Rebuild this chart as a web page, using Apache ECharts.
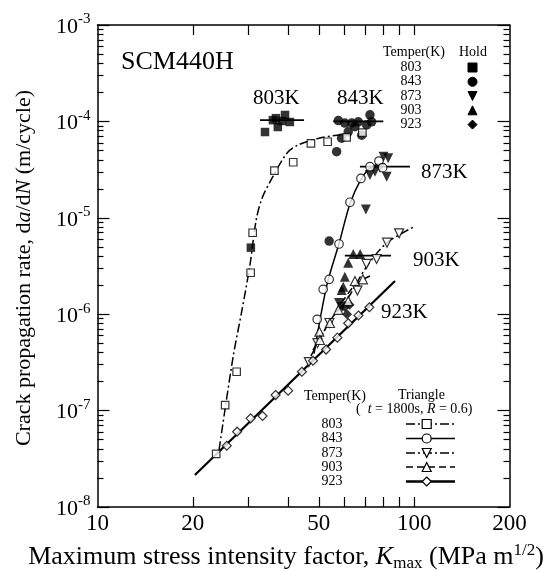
<!DOCTYPE html>
<html>
<head>
<meta charset="utf-8">
<script src="https://cdn.jsdelivr.net/npm/echarts@6/dist/echarts.min.js"></script>
<style>
html,body{margin:0;padding:0;background:#fff;}
#chart{width:553px;height:571px;}
</style>
</head>
<body>
<div id="chart"></div>
<script>
// ---------------- DATA ----------------
const xTickVals = [20, 30, 40, 50, 60, 70, 80, 90, 100];
const xLabelVals = [10, 20, 50, 100, 200];
const yMajorVals = [1e-8, 1e-7, 1e-6, 1e-5, 1e-4, 1e-3];
const yMinorMult = [2, 3, 4, 5, 6, 7, 8, 9];

// Hold (filled symbols)
const hold803 = [[33.8,7.76e-5],[35.8,1.03e-4],[37.1,8.75e-5],[39.1,1.165e-4],[40.5,9.86e-5],[38.2,1.01e-4],[36.6,1.08e-4],[30.5,4.9e-6]];
const hold843 = [[57.6,1.02e-4],[59.0,6.7e-5],[56.9,4.85e-5],[60.4,9.6e-5],[63.5,9.6e-5],[65.0,8.8e-5],[66.6,9.9e-5],[68.3,7.2e-5],[70.8,9.2e-5],[72.5,1.17e-4],[73.4,9.9e-5],[61.9,7.8e-5],[53.9,5.74e-6]];
const hold873 = [[80.0,4.3e-5],[82.8,4.14e-5],[72.5,2.78e-5],[75.2,3.0e-5],[81.9,2.67e-5],[78.0,3.29e-5],[70.4,1.22e-5],[57.9,1.31e-6],[59.2,1.19e-6]];
const hold903 = [[64.2,4.21e-6],[67.5,4.21e-6],[61.9,3.42e-6],[60.4,2.45e-6],[59.7,1.93e-6],[59.0,1.78e-6]];
const hold923 = [[60.4,1.19e-6],[62.5,1.25e-6],[61.4,1.0e-6]];

// Hold mean lines
const holdLine803 = [[32.6,1.03e-4],[44.9,1.03e-4]];
const holdLine843 = [[55.5,1.0e-4],[79.9,1.0e-4]];
const holdLine873 = [[67.4,3.39e-5],[97.0,3.39e-5]];
const holdLine903 = [[60.4,4.06e-6],[84.5,4.06e-6]];

// Triangle (open symbols)
const tri803 = [[23.7,3.55e-8],[25.3,1.14e-7],[27.5,2.53e-7],[30.45,2.69e-6],[30.9,7.0e-6],[36.2,3.08e-5],[41.5,3.77e-5],[47.2,5.93e-5],[53.3,6.15e-5],[61.2,6.84e-5],[68.6,7.63e-5]];
const tri843 = [[49.4,8.85e-7],[51.6,1.81e-6],[53.9,2.30e-6],[57.9,5.35e-6],[62.7,1.45e-5],[67.9,2.56e-5],[72.5,3.39e-5],[77.4,3.88e-5],[79.5,3.31e-5]];
const tri873 = [[46.5,3.19e-7],[49.5,5.0e-7],[54.0,8.1e-7],[66.2,1.76e-6],[70.7,3.32e-6],[76.1,3.74e-6],[82.1,5.52e-6],[89.6,6.9e-6]];
const tri903 = [[50.2,6.59e-7],[50.4,5.4e-7],[54.2,8.1e-7],[57.6,1.11e-6],[61.9,1.37e-6],[65.0,2.21e-6],[68.9,2.30e-6]];
const tri923 = [[25.6,4.32e-8],[27.6,6.04e-8],[30.45,8.32e-8],[33.2,8.79e-8],[36.5,1.45e-7],[40.0,1.61e-7],[44.2,2.53e-7],[47.9,3.29e-7],[52.7,4.30e-7],[57.2,5.71e-7],[61.9,8.05e-7],[66.7,9.70e-7],[72.2,1.18e-6]];

// Fitted curves
const fit803 = [[24.2,3.9e-8],[26.8,3.6e-7],[28.6,1.11e-6],[30.3,3.24e-6],[31.7,9.48e-6],[33.1,1.6e-5],[35.6,2.59e-5],[39.7,4.7e-5],[43.0,5.69e-5],[50.4,6.73e-5],[60.4,7.4e-5]];
const fit843 = [[48.3,3.9e-7],[53.0,2.0e-6],[58.0,5.5e-6],[62.7,1.4e-5],[67.9,2.5e-5],[72.5,3.3e-5],[77.0,3.6e-5]];
const fit873 = [[47.2,3.68e-7],[54.0,8.3e-7],[62.0,1.5e-6],[70.7,3.1e-6],[82.0,5.5e-6],[100.2,8.1e-6]];
const fit903 = [[47.9,4.25e-7],[56.0,1.0e-6],[65.0,2.0e-6],[73.6,2.55e-6]];
const fit923 = [[20.3,2.15e-8],[87.0,2.21e-6]];

const legendTemps = ['803', '843', '873', '903', '923'];

// ---------------- CHART ----------------
const FONT = '"Liberation Serif", "Times New Roman", serif';
const chart = echarts.init(document.getElementById('chart'), null, {renderer: 'canvas'});
const lg = v => Math.log10(v);
const yMinorVals = [];
for (let e = -8; e < -3; e++) yMinorMult.forEach(m => yMinorVals.push(m * Math.pow(10, e)));

const DASHDOT = [9, 3, 2, 3];

function scat(data, symbol, size, filled, rotate) {
  return {
    type: 'scatter', data, symbol, symbolSize: size, symbolRotate: rotate || 0,
    xAxisIndex: 0, yAxisIndex: 0, silent: true,
    itemStyle: filled ? {color: '#000'} : {color: '#fff', borderColor: '#000', borderWidth: 1.2},
    z: filled ? 4 : 5
  };
}
function ln(data, type, width, smooth) {
  return {
    type: 'line', data, showSymbol: false, symbol: 'none', smooth: smooth || false,
    xAxisIndex: 0, yAxisIndex: 0, silent: true,
    lineStyle: {color: '#000', width, type}, z: 2
  };
}

const tickCommon = {show: true, inside: true, lineStyle: {color: '#000', width: 1.2}};
const noLine = {show: false};
const valX = (pos, labels) => ({
  type: 'value', position: pos, min: 1, max: lg(200), gridIndex: 0,
  axisLine: {show: true, lineStyle: {color: '#000', width: 1.5}},
  axisTick: Object.assign({}, tickCommon, {length: 10, customValues: xTickVals.map(lg)}),
  axisLabel: labels ? {show: true, customValues: xLabelVals.map(lg), margin: 5,
    formatter: v => String(Math.round(Math.pow(10, v))),
    fontFamily: FONT, fontSize: 23, color: '#000'} : {show: false},
  splitLine: {show: false}
});
const valY = (pos, vals, len, labels, showLine) => ({
  type: 'value', position: pos, min: -8, max: -3, gridIndex: 0,
  axisLine: showLine ? {show: true, lineStyle: {color: '#000', width: 1.5}} : noLine,
  axisTick: Object.assign({}, tickCommon, {length: len, customValues: vals.map(lg)}),
  axisLabel: labels ? {show: true, customValues: yMajorVals.map(lg), margin: 7,
    formatter: v => '{b|10}{s|' + Math.round(v) + '}',
    rich: {
      b: {fontFamily: FONT, fontSize: 22, lineHeight: 26, color: '#000', verticalAlign: 'bottom'},
      s: {fontFamily: FONT, fontSize: 15, lineHeight: 15, color: '#000', verticalAlign: 'top'}
    }} : {show: false},
  splitLine: {show: false}
});

// legend graphics helpers
function sym(kind, cx, cy, s, filled) {
  const style = filled ? {fill: '#000', stroke: '#000', lineWidth: 1} : {fill: '#fff', stroke: '#000', lineWidth: 1.2};
  const h = s / 2;
  if (kind === 'square') return {type: 'rect', shape: {x: cx - h, y: cy - h, width: s, height: s}, style, z: 20};
  if (kind === 'circle') return {type: 'circle', shape: {cx, cy, r: h}, style, z: 20};
  let pts;
  if (kind === 'tri') pts = [[cx, cy - h], [cx + h, cy + h], [cx - h, cy + h]];
  if (kind === 'tridown') pts = [[cx, cy + h], [cx + h, cy - h], [cx - h, cy - h]];
  if (kind === 'diamond') pts = [[cx, cy - h], [cx + h, cy], [cx, cy + h], [cx - h, cy]];
  return {type: 'polygon', shape: {points: pts}, style, z: 20};
}
function txt(text, x, y, size, align, extra) {
  return Object.assign({
    type: 'text', x, y, z: 20,
    style: {text, fontFamily: FONT, fontSize: size, fill: '#000', textAlign: align || 'left', textVerticalAlign: 'middle'}
  }, extra || {});
}

const kinds = ['square', 'circle', 'tridown', 'tri', 'diamond'];
const graphics = [];
graphics.push(txt('SCM440H', 121, 62, 26));
graphics.push(txt('803K', 253, 98, 21));
graphics.push(txt('843K', 337, 98, 21));
graphics.push(txt('873K', 421, 172, 21));
graphics.push(txt('903K', 413, 260, 21));
graphics.push(txt('923K', 381, 312, 21));
// top legend
graphics.push(txt('Temper(K)', 383, 52, 14));
graphics.push(txt('Hold', 459, 52, 14));
const topRows = [67.5, 81.8, 96, 110.3, 124.6];
legendTemps.forEach((t, i) => {
  graphics.push(txt(t, 411, topRows[i], 14, 'center'));
  graphics.push(sym(kinds[i], 472.5, topRows[i], 9, true));
});
// bottom legend
graphics.push(txt('Temper(K)', 304, 396, 14));
graphics.push(txt('Triangle', 398, 395, 14));
graphics.push({
  type: 'text', x: 356, y: 409, z: 20,
  style: {
    text: '{n|(  }{i|t}{n| = 1800s, }{i|R}{n| = 0.6)}', textVerticalAlign: 'middle',
    rich: {
      n: {fontFamily: FONT, fontSize: 14, fill: '#000'},
      i: {fontFamily: FONT, fontSize: 14, fontStyle: 'italic', fill: '#000'}
    }
  }
});
const botRows = [424, 438.5, 453, 467, 481.5];
const botDash = [DASHDOT, null, DASHDOT, [7, 4], null];
const botWidth = [1.5, 1.5, 1.5, 1.5, 2.5];
legendTemps.forEach((t, i) => {
  graphics.push(txt(t, 332, botRows[i], 14, 'center'));
  graphics.push({type: 'line', shape: {x1: 406, y1: botRows[i], x2: 455, y2: botRows[i]},
    style: {stroke: '#000', lineWidth: botWidth[i], lineDash: botDash[i]}, z: 19});
  graphics.push(sym(kinds[i], 426.7, botRows[i], 9, false));
});
// axis titles
graphics.push({
  type: 'text', x: 24, y: 268, rotation: Math.PI / 2, z: 20,
  style: {
    text: '{n|Crack propagation rate, d}{i|a}{n|/d}{i|N}{n| (m/cycle)}',
    textAlign: 'center', textVerticalAlign: 'middle',
    rich: {
      n: {fontFamily: FONT, fontSize: 22, fill: '#000'},
      i: {fontFamily: FONT, fontSize: 22, fontStyle: 'italic', fill: '#000'}
    }
  }
});
graphics.push({
  type: 'text', x: 286, y: 557, z: 20,
  style: {
    text: '{n|Maximum stress intensity factor, }{i|K}{sub|max}{n| (MPa m}{sup|1/2}{n|)}',
    textAlign: 'center', textVerticalAlign: 'middle',
    rich: {
      n: {fontFamily: FONT, fontSize: 26, lineHeight: 30, fill: '#000', verticalAlign: 'middle'},
      i: {fontFamily: FONT, fontSize: 26, lineHeight: 30, fontStyle: 'italic', fill: '#000', verticalAlign: 'middle'},
      sub: {fontFamily: FONT, fontSize: 17, lineHeight: 16, fill: '#000', verticalAlign: 'bottom'},
      sup: {fontFamily: FONT, fontSize: 17, lineHeight: 16, fill: '#000', verticalAlign: 'top'}
    }
  }
});

const option = {
  animation: false,
  backgroundColor: '#fff',
  grid: {left: 97.5, right: 43.5, top: 25, bottom: 64, containLabel: false, outerBoundsMode: 'none'},
  xAxis: [
    {type: 'log', logBase: 10, min: 10, max: 200, position: 'bottom',
     axisLine: {show: false}, axisTick: {show: false}, axisLabel: {show: false}, splitLine: {show: false}, minorTick: {show: false}},
    valX('bottom', true),
    valX('top', false)
  ],
  yAxis: [
    {type: 'log', logBase: 10, min: 1e-8, max: 1e-3, position: 'left',
     axisLine: {show: false}, axisTick: {show: false}, axisLabel: {show: false}, splitLine: {show: false}, minorTick: {show: false}},
    valY('left', yMajorVals, 12, true, true),
    valY('left', yMinorVals, 6, false, false),
    valY('right', yMajorVals, 12, false, true),
    valY('right', yMinorVals, 6, false, false)
  ],
  series: [
    ln(fit803, DASHDOT, 1.5, 0.3),
    ln(fit843, 'solid', 1.5, 0.3),
    ln(fit873, DASHDOT, 1.5, 0.3),
    ln(fit903, [7, 4], 1.5, 0.3),
    ln(fit923, 'solid', 2.2),
    ln(holdLine803, 'solid', 1.8),
    ln(holdLine843, 'solid', 1.8),
    ln(holdLine873, 'solid', 1.8),
    ln(holdLine903, 'solid', 1.8),
    scat(tri803, 'rect', 7.5, false),
    scat(tri843, 'circle', 8.5, false),
    scat(tri873, 'triangle', 9, false, 180),
    scat(tri903, 'triangle', 9, false),
    scat(tri923, 'diamond', 9, false),
    scat(hold803, 'rect', 8.5, true),
    scat(hold843, 'circle', 9.5, true),
    scat(hold873, 'triangle', 10, true, 180),
    scat(hold903, 'triangle', 10, true),
    scat(hold923, 'diamond', 10, true)
  ],
  graphic: {elements: graphics}
};
chart.setOption(option);
</script>
</body>
</html>
